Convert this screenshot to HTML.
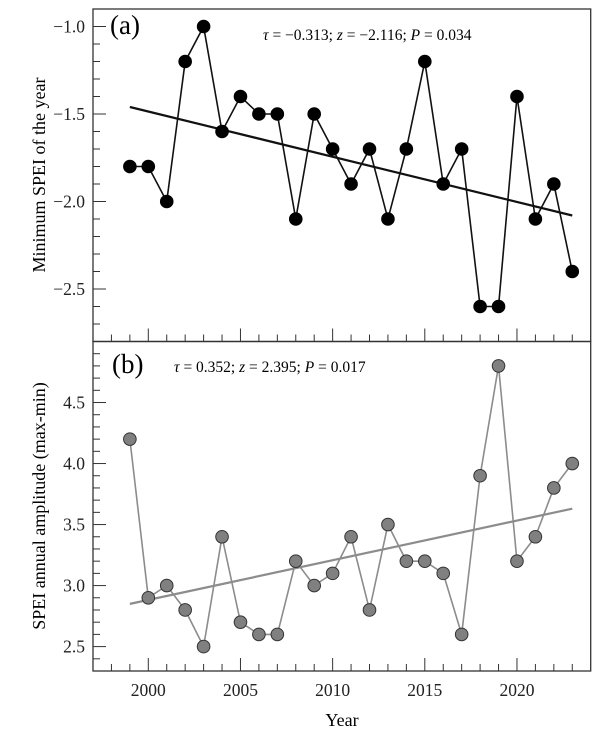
<!DOCTYPE html>
<html><head><meta charset="utf-8"><style>
body{margin:0;background:#fff}
svg{display:block;font-family:"Liberation Serif",serif}
</style></head><body>
<svg id="c" width="612" height="742" viewBox="0 0 612 742">
<g id="pa"></g>
<g id="pb"></g>
<g id="xa"></g>
<text x="110" y="34" font-size="27">(a)</text>
<text x="263" y="40" font-size="15.5"><tspan font-style="italic">τ</tspan> = −0.313; <tspan font-style="italic">z</tspan> = −2.116; <tspan font-style="italic">P</tspan> = 0.034</text>
<text x="112" y="373" font-size="27">(b)</text>
<text x="174" y="372" font-size="15.5"><tspan font-style="italic">τ</tspan> = 0.352; <tspan font-style="italic">z</tspan> = 2.395; <tspan font-style="italic">P</tspan> = 0.017</text>
<text transform="translate(45,175) rotate(-90)" text-anchor="middle" font-size="18">Minimum SPEI of the year</text>
<text transform="translate(45,506) rotate(-90)" text-anchor="middle" font-size="18">SPEI annual amplitude (max-min)</text>
<text x="342" y="726" text-anchor="middle" font-size="18">Year</text>
</svg>
<script>
const years=[1999,2000,2001,2002,2003,2004,2005,2006,2007,2008,2009,2010,2011,2012,2013,2014,2015,2016,2017,2018,2019,2020,2021,2022,2023];
const minSpei=[-1.8,-1.8,-2.0,-1.2,-1.0,-1.6,-1.4,-1.5,-1.5,-2.1,-1.5,-1.7,-1.9,-1.7,-2.1,-1.7,-1.2,-1.9,-1.7,-2.6,-2.6,-1.4,-2.1,-1.9,-2.4];
const amplitude=[4.2,2.9,3.0,2.8,2.5,3.4,2.7,2.6,2.6,3.2,3.0,3.1,3.4,2.8,3.5,3.2,3.2,3.1,2.6,3.9,4.8,3.2,3.4,3.8,4.0];
const trendA=[-1.46,-2.08];
const trendB=[2.85,3.63];
const xTickLabels=[2000,2005,2010,2015,2020];
const yTicksA=[-1.0,-1.5,-2.0,-2.5];
const yTicksB=[2.5,3.0,3.5,4.0,4.5];
const NS='http://www.w3.org/2000/svg';
const L=93,R=590.7;
const x=v=>L+(v-1997)/(2024-1997)*(R-L);
const yA=v=>9+(-0.9-v)/1.9*332.5;
const yB=v=>341.5+(5.0-v)/2.7*329.5;
function mk(p,t,a){const e=document.createElementNS(NS,t);for(const k in a)e.setAttribute(k,a[k]);p.appendChild(e);return e;}
function panel(g,yf,lo,hi,ticks,top,bot,data,trend,col,fill,name){
  const fr=mk(g,'rect',{x:L,y:top,width:R-L,height:bot-top,fill:'none',stroke:'#333','stroke-width':1.3});
  
  
  for(let i=Math.round(lo*10);i<=Math.round(hi*10);i++){
    const v=i/10,maj=Math.abs(i%5)===0,yy=yf(v);
    if(yy<top+1||yy>bot-1)continue;
    const t=mk(g,'line',{x1:L,x2:L+(maj?13:7),y1:yy,y2:yy,stroke:'#333','stroke-width':1});
    
    
  }
  ticks.forEach(v=>{const t=mk(g,'text',{x:L-8,y:yf(v)+6,'text-anchor':'end','font-size':17.5,fill:'#222'});t.textContent=v.toFixed(1).replace('-','−');
    
    });
  for(let yr=1998;yr<=2023;yr++){
    const maj=yr%5===0;
    const t=mk(g,'line',{x1:x(yr),x2:x(yr),y1:bot,y2:bot-(maj?13:7),stroke:'#333','stroke-width':1});
    
    
  }
  const tl=mk(g,'line',{x1:x(years[0]),y1:yf(trend[0]),x2:x(years[years.length-1]),y2:yf(trend[1]),stroke:col,'stroke-width':2.2});
  
  
  const pl=mk(g,'polyline',{points:years.map((yr,i)=>x(yr)+','+yf(data[i])).join(' '),fill:'none',stroke:col,'stroke-width':1.6});
  
  
  years.forEach((yr,i)=>{const c=mk(g,'circle',{cx:x(yr),cy:yf(data[i]),r:6.3,fill:fill,stroke:fill==='#000'?'#000':'#333','stroke-width':1});
    
    });
}
panel(document.getElementById('pa'),yA,-2.8,-0.9,yTicksA,9,341.5,minSpei,trendA,'#111','#000','panel-a');
panel(document.getElementById('pb'),yB,2.3,5.0,yTicksB,341.5,671,amplitude,trendB,'#8c8c8c','#808080','panel-b');
const xa=document.getElementById('xa');
xTickLabels.forEach(v=>{const t=mk(xa,'text',{x:x(v),y:696,'text-anchor':'middle','font-size':17.5,fill:'#222'});t.textContent=v;
  
  });
</script>
</body></html>
